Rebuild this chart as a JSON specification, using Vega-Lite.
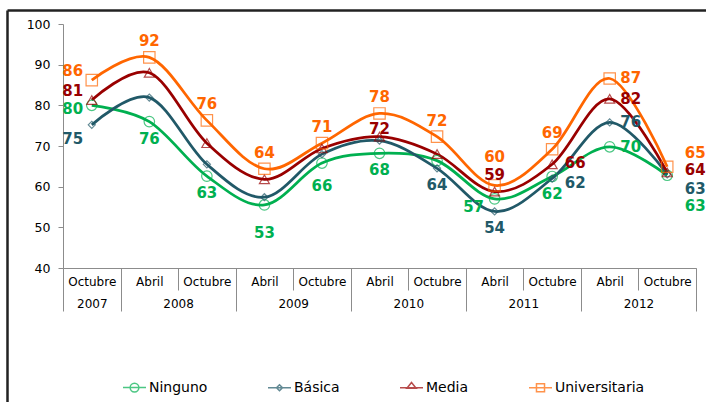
{
  "$schema": "https://vega.github.io/schema/vega-lite/v6.json",
  "width": 633,
  "height": 244,
  "autosize": "none",
  "padding": {"left": 63, "top": 24, "right": 10, "bottom": 134},
  "background": "white",
  "data": {"values": [
    {"t":1,"mes":"Octubre","anio":"2007","serie":"Ninguno","valor":80,"etiqueta":"80"},
    {"t":2,"mes":"Abril","anio":"2008","serie":"Ninguno","valor":76,"etiqueta":"76"},
    {"t":3,"mes":"Octubre","anio":"2008","serie":"Ninguno","valor":62.6,"etiqueta":"63"},
    {"t":4,"mes":"Abril","anio":"2009","serie":"Ninguno","valor":55.5,"etiqueta":"53"},
    {"t":5,"mes":"Octubre","anio":"2009","serie":"Ninguno","valor":65.8,"etiqueta":"66"},
    {"t":6,"mes":"Abril","anio":"2010","serie":"Ninguno","valor":68.2,"etiqueta":"68"},
    {"t":7,"mes":"Octubre","anio":"2010","serie":"Ninguno","valor":66.4,"etiqueta":""},
    {"t":8,"mes":"Abril","anio":"2011","serie":"Ninguno","valor":57,"etiqueta":"57"},
    {"t":9,"mes":"Octubre","anio":"2011","serie":"Ninguno","valor":62.5,"etiqueta":"62"},
    {"t":10,"mes":"Abril","anio":"2012","serie":"Ninguno","valor":69.8,"etiqueta":"70"},
    {"t":11,"mes":"Octubre","anio":"2012","serie":"Ninguno","valor":62.8,"etiqueta":"63"},
    {"t":1,"mes":"Octubre","anio":"2007","serie":"Básica","valor":75.2,"etiqueta":"75"},
    {"t":2,"mes":"Abril","anio":"2008","serie":"Básica","valor":81.9,"etiqueta":""},
    {"t":3,"mes":"Octubre","anio":"2008","serie":"Básica","valor":65.5,"etiqueta":""},
    {"t":4,"mes":"Abril","anio":"2009","serie":"Básica","valor":57.4,"etiqueta":""},
    {"t":5,"mes":"Octubre","anio":"2009","serie":"Básica","valor":68,"etiqueta":""},
    {"t":6,"mes":"Abril","anio":"2010","serie":"Básica","valor":71.3,"etiqueta":""},
    {"t":7,"mes":"Octubre","anio":"2010","serie":"Básica","valor":64.5,"etiqueta":"64"},
    {"t":8,"mes":"Abril","anio":"2011","serie":"Básica","valor":53.9,"etiqueta":"54"},
    {"t":9,"mes":"Octubre","anio":"2011","serie":"Básica","valor":62,"etiqueta":"62"},
    {"t":10,"mes":"Abril","anio":"2012","serie":"Básica","valor":75.8,"etiqueta":"76"},
    {"t":11,"mes":"Octubre","anio":"2012","serie":"Básica","valor":63,"etiqueta":"63"},
    {"t":1,"mes":"Octubre","anio":"2007","serie":"Media","valor":81.3,"etiqueta":"81"},
    {"t":2,"mes":"Abril","anio":"2008","serie":"Media","valor":88,"etiqueta":""},
    {"t":3,"mes":"Octubre","anio":"2008","serie":"Media","valor":70.7,"etiqueta":""},
    {"t":4,"mes":"Abril","anio":"2009","serie":"Media","valor":61.8,"etiqueta":""},
    {"t":5,"mes":"Octubre","anio":"2009","serie":"Media","valor":69.4,"etiqueta":""},
    {"t":6,"mes":"Abril","anio":"2010","serie":"Media","valor":72.3,"etiqueta":"72"},
    {"t":7,"mes":"Octubre","anio":"2010","serie":"Media","valor":68,"etiqueta":""},
    {"t":8,"mes":"Abril","anio":"2011","serie":"Media","valor":58.8,"etiqueta":"59"},
    {"t":9,"mes":"Octubre","anio":"2011","serie":"Media","valor":65.5,"etiqueta":"66"},
    {"t":10,"mes":"Abril","anio":"2012","serie":"Media","valor":81.6,"etiqueta":"82"},
    {"t":11,"mes":"Octubre","anio":"2012","serie":"Media","valor":63.5,"etiqueta":"64"},
    {"t":1,"mes":"Octubre","anio":"2007","serie":"Universitaria","valor":86.2,"etiqueta":"86"},
    {"t":2,"mes":"Abril","anio":"2008","serie":"Universitaria","valor":91.8,"etiqueta":"92"},
    {"t":3,"mes":"Octubre","anio":"2008","serie":"Universitaria","valor":76.3,"etiqueta":"76"},
    {"t":4,"mes":"Abril","anio":"2009","serie":"Universitaria","valor":64.4,"etiqueta":"64"},
    {"t":5,"mes":"Octubre","anio":"2009","serie":"Universitaria","valor":70.7,"etiqueta":"71"},
    {"t":6,"mes":"Abril","anio":"2010","serie":"Universitaria","valor":78,"etiqueta":"78"},
    {"t":7,"mes":"Octubre","anio":"2010","serie":"Universitaria","valor":72.3,"etiqueta":"72"},
    {"t":8,"mes":"Abril","anio":"2011","serie":"Universitaria","valor":60.3,"etiqueta":"60"},
    {"t":9,"mes":"Octubre","anio":"2011","serie":"Universitaria","valor":69.2,"etiqueta":"69"},
    {"t":10,"mes":"Abril","anio":"2012","serie":"Universitaria","valor":86.6,"etiqueta":"87"},
    {"t":11,"mes":"Octubre","anio":"2012","serie":"Universitaria","valor":64.9,"etiqueta":"65"}
  ]},
  "config": {
    "view": {"stroke": null},
    "text": {"font": "DejaVu Sans", "fontSize": 15, "fontWeight": "bold", "align": "center", "baseline": "middle"},
    "axis": {"labelFont": "DejaVu Sans", "labelColor": "#000000", "domainColor": "#8c8c8c", "tickColor": "#8c8c8c", "grid": false, "labelFlush": false, "labelOverlap": false}
  },
  "layer": [
    {
      "mark": {"type": "line", "interpolate": "cardinal", "strokeWidth": 2.75},
      "encoding": {
        "x": {"field": "t", "type": "quantitative", "scale": {"domain": [0.5, 11.5], "nice": false, "zero": false},
              "axis": {"orient": "bottom", "title": null, "values": [1,2,3,4,5,6,7,8,9,10,11], "ticks": false, "labelExpr": "datum.value % 2 == 1 ? 'Octubre' : 'Abril'", "labelPadding": 8, "labelFontSize": 12, "domain": true}},
        "y": {"field": "valor", "type": "quantitative", "scale": {"domain": [40, 100], "nice": false, "zero": false},
              "axis": {"title": null, "values": [40,50,60,70,80,90,100], "tickSize": 5, "labelPadding": 8, "labelFontSize": 12.5}},
        "color": {"field": "serie", "type": "nominal", "scale": {"domain": ["Ninguno","Básica","Media","Universitaria"], "range": ["#00B050","#215968","#990000","#FF6600"]}},
        "detail": {"field": "serie"}
      }
    },
    {
      "transform": [{"filter": "datum.serie == 'Ninguno'"}],
      "mark": {"type": "point", "filled": false, "strokeWidth": 1.2, "shape": "circle", "size": 110},
      "encoding": {
        "x": {"field": "t", "type": "quantitative", "scale": {"domain": [0.5, 11.5], "nice": false, "zero": false},
              "axis": {"orient": "bottom", "title": null, "values": [0.5,1.5,2.5,3.5,4.5,5.5,6.5,7.5,8.5,9.5,10.5,11.5], "labels": false, "ticks": true, "tickSize": 22, "domain": false}},
        "y": {"field": "valor", "type": "quantitative", "scale": {"domain": [40, 100], "nice": false, "zero": false}},
        "color": {"field": "serie", "type": "nominal", "scale": {"domain": ["Ninguno","Básica","Media","Universitaria"], "range": ["#00B050","#215968","#990000","#FF6600"]}}
      }
    },
    {
      "transform": [{"filter": "datum.serie == 'Básica'"}],
      "mark": {"type": "point", "filled": false, "strokeWidth": 1.2, "shape": "diamond", "size": 50},
      "encoding": {
        "x": {"field": "t", "type": "quantitative", "scale": {"domain": [0.5, 11.5], "nice": false, "zero": false}, "axis": null},
        "y": {"field": "valor", "type": "quantitative", "scale": {"domain": [40, 100], "nice": false, "zero": false}},
        "color": {"field": "serie", "type": "nominal", "scale": {"domain": ["Ninguno","Básica","Media","Universitaria"], "range": ["#00B050","#215968","#990000","#FF6600"]}}
      }
    },
    {
      "transform": [{"filter": "datum.serie == 'Media'"}],
      "mark": {"type": "point", "filled": false, "strokeWidth": 1.2, "shape": "triangle-up", "size": 100},
      "encoding": {
        "x": {"field": "t", "type": "quantitative", "scale": {"domain": [0.5, 11.5], "nice": false, "zero": false}, "axis": null},
        "y": {"field": "valor", "type": "quantitative", "scale": {"domain": [40, 100], "nice": false, "zero": false}},
        "color": {"field": "serie", "type": "nominal", "scale": {"domain": ["Ninguno","Básica","Media","Universitaria"], "range": ["#00B050","#215968","#990000","#FF6600"]}}
      }
    },
    {
      "transform": [{"filter": "datum.serie == 'Universitaria'"}],
      "mark": {"type": "point", "filled": false, "strokeWidth": 1.2, "shape": "square", "size": 130},
      "encoding": {
        "x": {"field": "t", "type": "quantitative", "scale": {"domain": [0.5, 11.5], "nice": false, "zero": false}, "axis": null},
        "y": {"field": "valor", "type": "quantitative", "scale": {"domain": [40, 100], "nice": false, "zero": false}},
        "color": {"field": "serie", "type": "nominal", "scale": {"domain": ["Ninguno","Básica","Media","Universitaria"], "range": ["#00B050","#215968","#990000","#FF6600"]}}
      }
    },
    {
      "transform": [{"filter": "false"}],
      "mark": {"type": "point", "filled": false, "strokeWidth": 1.5},
      "encoding": {
        "x": {"field": "t", "type": "quantitative", "scale": {"domain": [0.5, 11.5], "nice": false, "zero": false}, "axis": null},
        "y": {"field": "valor", "type": "quantitative", "scale": {"domain": [40, 100], "nice": false, "zero": false}},
        "color": {"field": "serie", "type": "nominal", "scale": {"domain": ["Ninguno","Básica","Media","Universitaria"], "range": ["#00B050","#215968","#990000","#FF6600"]}},
        "shape": {"field": "serie", "type": "nominal",
          "scale": {"domain": ["Ninguno","Básica","Media","Universitaria"],
                    "range": [
                      "M-1,0H1M-0.38,0A0.38,0.38 0 1,0 0.38,0A0.38,0.38 0 1,0 -0.38,0ZM-0.38,0A0.38,0.38 0 1,1 0.38,0A0.38,0.38 0 1,1 -0.38,0Z",
                      "M-1,0H1M0,-0.26L0.26,0L0,0.26L-0.26,0ZM0,-0.26L-0.26,0L0,0.26L0.26,0Z",
                      "M-1,0H1M0,-0.45L0.4,0.05L-0.4,0.05ZM0,-0.45L-0.4,0.05L0.4,0.05Z",
                      "M-1,0H1M-0.35,-0.35H0.35V0.35H-0.35ZM-0.35,-0.35V0.35H0.35V-0.35Z"
                    ]},
          "legend": {"title": null, "orient": "none", "legendX": 59, "legendY": 351, "direction": "horizontal", "symbolSize": 529, "symbolStrokeWidth": 1.5, "symbolOpacity": 1, "labelFont": "DejaVu Sans", "labelFontSize": 14, "labelColor": "#000000", "labelOffset": 2, "columnPadding": 57}}
      }
    },
    {
      "data": {"values": [{"parte": "marco superior"}]},
      "mark": {"type": "rule", "color": "#222222", "strokeWidth": 2.5},
      "encoding": {
        "x": {"datum": -0.4645, "type": "quantitative", "scale": {"domain": [0.5, 11.5], "nice": false, "zero": false},
              "axis": {"orient": "bottom", "title": null, "values": [0.5,1.5,3.5,5.5,7.5,9.5,11.5], "labels": false, "ticks": true, "tickSize": 43, "domain": false}},
        "x2": {"datum": 12.5},
        "y": {"datum": 103.32, "type": "quantitative", "scale": {"domain": [40, 100], "nice": false, "zero": false}}
      }
    },
    {
      "data": {"values": [{"parte": "marco izquierdo"}]},
      "mark": {"type": "rule", "color": "#222222", "strokeWidth": 2.5},
      "encoding": {
        "x": {"datum": -0.4645, "type": "quantitative", "scale": {"domain": [0.5, 11.5], "nice": false, "zero": false},
              "axis": {"orient": "bottom", "title": null, "values": [1,2.5,4.5,6.5,8.5,10.5], "ticks": false, "domain": false, "labelPadding": 30, "labelFontSize": 12,
                       "labelExpr": "datum.value == 1 ? '2007' : datum.value == 2.5 ? '2008' : datum.value == 4.5 ? '2009' : datum.value == 6.5 ? '2010' : datum.value == 8.5 ? '2011' : '2012'"}},
        "y": {"datum": 103.32, "type": "quantitative", "scale": {"domain": [40, 100], "nice": false, "zero": false}},
        "y2": {"datum": 4}
      }
    },
    {
      "encoding": {
        "x": {"field": "t", "type": "quantitative", "scale": {"domain": [0.5, 11.5], "nice": false, "zero": false}, "axis": null},
        "y": {"field": "valor", "type": "quantitative", "scale": {"domain": [40, 100], "nice": false, "zero": false}},
        "text": {"field": "etiqueta"},
        "fill": {"field": "serie", "type": "nominal", "scale": {"domain": ["Ninguno","Básica","Media","Universitaria"], "range": ["#00B050","#215968","#990000","#FF6600"]}, "legend": null}
      },
      "layer": [
        {"transform": [{"filter": "datum.serie == 'Universitaria' && indexof([2,3,4,5,6,7,9], datum.t) >= 0"}], "mark": {"type": "text", "dx": 0, "dy": -16}},
        {"transform": [{"filter": "(datum.serie == 'Ninguno' && indexof([2,3,6,9], datum.t) >= 0) || (datum.serie == 'Básica' && indexof([7,8], datum.t) >= 0)"}], "mark": {"type": "text", "dx": 0, "dy": 17}},
        {"transform": [{"filter": "datum.serie == 'Ninguno' && datum.t == 4"}], "mark": {"type": "text", "dx": 0, "dy": 28}},
        {"transform": [{"filter": "datum.serie == 'Ninguno' && datum.t == 5"}], "mark": {"type": "text", "dx": 0, "dy": 23}},
        {"transform": [{"filter": "datum.serie == 'Universitaria' && datum.t == 8"}], "mark": {"type": "text", "dx": 0, "dy": -28}},
        {"transform": [{"filter": "datum.serie == 'Media' && datum.t == 8"}], "mark": {"type": "text", "dx": 0, "dy": -17}},
        {"transform": [{"filter": "datum.serie == 'Media' && datum.t == 6"}], "mark": {"type": "text", "dx": 0, "dy": -8}},
        {"transform": [{"filter": "datum.t == 1 && (datum.serie == 'Universitaria' || datum.serie == 'Media')"}], "mark": {"type": "text", "dx": -19, "dy": -9}},
        {"transform": [{"filter": "datum.t == 1 && datum.serie == 'Ninguno'"}], "mark": {"type": "text", "dx": -19, "dy": 4}},
        {"transform": [{"filter": "datum.t == 1 && datum.serie == 'Básica'"}], "mark": {"type": "text", "dx": -19, "dy": 14}},
        {"transform": [{"filter": "datum.t == 8 && datum.serie == 'Ninguno'"}], "mark": {"type": "text", "dx": -21, "dy": 8}},
        {"transform": [{"filter": "datum.t == 10"}], "mark": {"type": "text", "dx": 21, "dy": 0}},
        {"transform": [{"filter": "datum.t == 9 && datum.serie == 'Media'"}], "mark": {"type": "text", "dx": 23, "dy": -1}},
        {"transform": [{"filter": "datum.t == 9 && datum.serie == 'Básica'"}], "mark": {"type": "text", "dx": 23, "dy": 4}},
        {"transform": [{"filter": "datum.t == 11 && datum.serie == 'Universitaria'"}], "mark": {"type": "text", "dx": 28, "dy": -14}},
        {"transform": [{"filter": "datum.t == 11 && datum.serie == 'Media'"}], "mark": {"type": "text", "dx": 28, "dy": -2}},
        {"transform": [{"filter": "datum.t == 11 && datum.serie == 'Básica'"}], "mark": {"type": "text", "dx": 28, "dy": 15}},
        {"transform": [{"filter": "datum.t == 11 && datum.serie == 'Ninguno'"}], "mark": {"type": "text", "dx": 28, "dy": 31}}
      ]
    }
  ],
  "resolve": {"axis": {"x": "independent"}}
}
